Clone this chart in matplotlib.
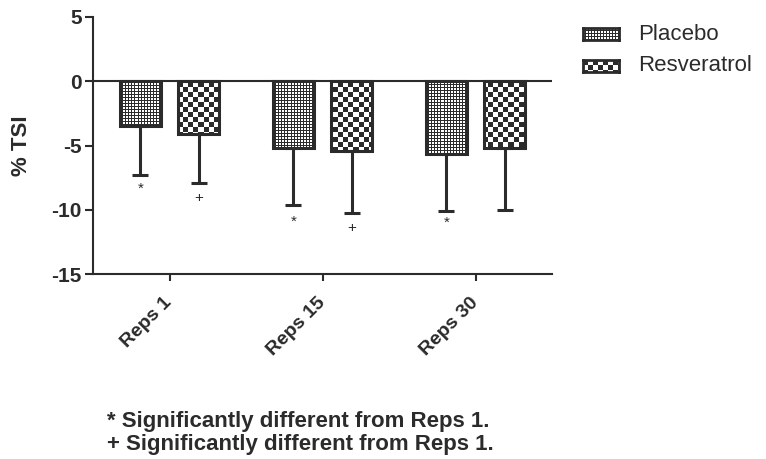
import numpy as np
import matplotlib
matplotlib.use("Agg")
import matplotlib.pyplot as plt

plt.rcParams['font.family'] = ['Liberation Sans', 'DejaVu Sans']
plt.rcParams['axes.unicode_minus'] = False

groups = ['Reps 1', 'Reps 15', 'Reps 30']
placebo = [-3.5, -5.2, -5.7]
placebo_sd = [3.8, 4.4, 4.4]
resveratrol = [-4.1, -5.4, -5.2]
resveratrol_sd = [3.85, 4.85, 4.85]
# significance marks: (group, series, symbol, y position)
marks = [(0, 0, '*', -8.4), (0, 1, '+', -9.1),
         (1, 0, '*', -10.9), (1, 1, '+', -11.4),
         (2, 0, '*', -11.0)]
footnotes = ['* Significantly different from Reps 1.',
             '+ Significantly different from Reps 1.']

INK = '#2b2b2b'
W, H = 766, 459
ax_px = (93, 17, 459, 257)   # left, top, width, height in pixels


def fine_texture(h, w):
    # white dots on dark grid, 3 px period
    i, j = np.mgrid[0:h, 0:w]
    return ((i % 3 < 2) & (j % 3 < 2)).astype(float)


def checker_texture(h, w, cell=5):
    i, j = np.mgrid[0:h, 0:w]
    return (((i // cell) + (j // cell)) % 2).astype(float)


fig = plt.figure(figsize=(W / 100, H / 100), dpi=100)
ax = fig.add_axes([ax_px[0] / W, 1 - (ax_px[1] + ax_px[3]) / H, ax_px[2] / W, ax_px[3] / H])

x = np.arange(len(groups))
width = 0.27
offset = 0.19
cmap = matplotlib.colors.ListedColormap([INK, 'white'])

textures = [fine_texture(ax_px[3], ax_px[2]), checker_texture(ax_px[3], ax_px[2])]
series = [(placebo, placebo_sd), (resveratrol, resveratrol_sd)]

for k, (vals, sds) in enumerate(series):
    xs = x + (k * 2 - 1) * offset
    bars = ax.bar(xs, vals, width, facecolor='none', edgecolor=INK, linewidth=2.2, zorder=3)
    for b in bars:
        im = ax.imshow(textures[k], cmap=cmap, vmin=0, vmax=1, interpolation='nearest',
                       extent=(-0.5, 2.5, -15, 5), aspect='auto', zorder=2)
        im.set_clip_path(b)
    ax.errorbar(xs, vals, yerr=[sds, np.zeros(len(sds))], fmt='none', ecolor=INK,
                elinewidth=2.2, capsize=6, capthick=2.2, zorder=4)

for g, s, sym, yv in marks:
    ax.text(x[g] + (s * 2 - 1) * offset, yv, sym, ha='center', va='center',
            fontsize=11, color=INK)

ax.axhline(0, color=INK, linewidth=1.5, zorder=5)
ax.set_xlim(-0.5, 2.5)
ax.set_ylim(-15, 5)
ax.set_yticks([5, 0, -5, -10, -15])
ax.set_xticks(x)
ax.set_xticklabels(groups, rotation=45, ha='right', va='center', rotation_mode='anchor',
                   fontsize=14, fontweight='bold', color=INK)
for lbl in ax.get_yticklabels():
    lbl.set_fontsize(15)
    lbl.set_fontweight('bold')
    lbl.set_color(INK)
ax.tick_params(axis='y', length=6, width=1.5, color=INK, pad=2)
ax.tick_params(axis='x', length=5, width=1.5, color=INK, pad=14)
ax.spines['top'].set_visible(False)
ax.spines['right'].set_visible(False)
for sp in ['left', 'bottom']:
    ax.spines[sp].set_linewidth(1.5)
    ax.spines[sp].set_color(INK)
ax.set_ylabel('% TSI', fontsize=16, fontweight='bold', color=INK, labelpad=14)

# legend swatches with the same textures
labels = ['Placebo', 'Resveratrol']
for k, (lab, ytop) in enumerate(zip(labels, [28, 60])):
    sw = fig.add_axes([583 / W, 1 - (ytop + 12) / H, 36 / W, 12 / H])
    sw.imshow(textures[k][:12, :36], cmap=cmap, vmin=0, vmax=1,
              interpolation='nearest', aspect='auto')
    sw.set_xticks([])
    sw.set_yticks([])
    for sp in sw.spines.values():
        sp.set_linewidth(2)
        sp.set_color(INK)
    fig.text(638 / W, 1 - (ytop + 6) / H, lab, fontsize=16, va='center', color=INK)

for i, line in enumerate(footnotes):
    fig.text(107 / W, 1 - (427 + i * 23) / H, line, fontsize=16, fontweight='bold',
             va='baseline', color=INK)

fig.savefig('out.png', dpi=100)
